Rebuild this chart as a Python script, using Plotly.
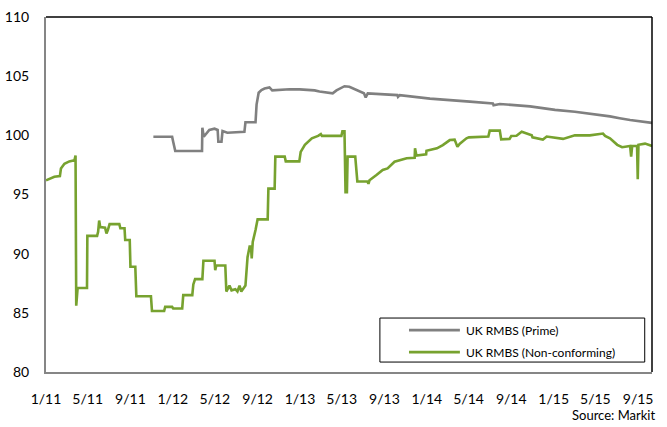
import plotly.graph_objects as go

# ---- data ----
prime_dates = [
    "2011-11-06", "2011-12-30", "2012-01-02", "2012-01-08", "2012-03-25", "2012-03-26",
    "2012-03-30", "2012-04-07", "2012-04-15", "2012-04-30", "2012-05-09", "2012-05-11",
    "2012-05-20", "2012-05-23", "2012-06-06", "2012-07-25", "2012-07-28", "2012-08-26",
    "2012-08-29", "2012-09-04", "2012-09-12", "2012-09-21", "2012-10-05", "2012-10-13",
    "2012-12-02", "2012-12-31", "2013-01-14", "2013-02-12", "2013-02-26", "2013-04-05",
    "2013-04-16", "2013-05-09", "2013-05-23", "2013-06-08", "2013-07-04", "2013-07-09",
    "2013-07-15", "2013-10-08", "2013-10-10", "2013-10-15", "2014-01-10", "2014-05-05",
    "2014-07-10", "2014-07-12", "2014-07-30", "2014-10-25", "2015-01-05", "2015-03-03",
    "2015-04-15", "2015-05-15", "2015-06-12", "2015-07-10", "2015-08-09", "2015-10-11",
]
prime_values = [
    99.88, 99.88, 99.46, 98.67, 98.67, 100.64,
    99.88, 100.2, 100.45, 100.56, 100.45, 99.46,
    99.46, 100.36, 100.22, 100.3, 101.1, 101.1,
    102.6, 103.6, 103.83, 103.95, 104.05, 103.8,
    103.9, 103.88, 103.85, 103.8, 103.7, 103.55,
    103.8, 104.15, 104.1, 103.9, 103.55, 103.2,
    103.55, 103.4, 103.25, 103.4, 103.1, 102.85,
    102.7, 102.55, 102.65, 102.45, 102.15, 102.0,
    101.85, 101.72, 101.6, 101.45, 101.3, 101.05,
]

nc_dates = [
    "2011-01-01", "2011-01-11", "2011-01-16", "2011-01-25", "2011-02-10", "2011-02-13",
    "2011-02-23", "2011-03-09", "2011-03-24", "2011-03-27", "2011-03-29", "2011-03-31",
    "2011-04-02", "2011-04-29", "2011-04-30", "2011-05-28", "2011-05-31", "2011-06-03",
    "2011-06-06", "2011-06-20", "2011-06-24", "2011-06-28", "2011-07-03", "2011-07-31",
    "2011-08-03", "2011-08-15", "2011-08-17", "2011-08-30", "2011-09-01", "2011-09-15",
    "2011-09-18", "2011-10-30", "2011-11-02", "2011-12-07", "2011-12-10", "2011-12-30",
    "2012-01-02", "2012-01-28", "2012-01-31", "2012-02-26", "2012-02-29", "2012-03-05",
    "2012-03-26", "2012-03-29", "2012-04-30", "2012-05-02", "2012-05-05", "2012-05-31",
    "2012-06-03", "2012-06-12", "2012-06-18", "2012-06-29", "2012-07-05", "2012-07-11",
    "2012-07-16", "2012-07-28", "2012-08-03", "2012-08-09", "2012-08-13", "2012-08-15",
    "2012-08-18", "2012-08-26", "2012-09-01", "2012-09-30", "2012-10-02", "2012-10-20",
    "2012-10-22", "2012-11-18", "2012-11-21", "2012-12-30", "2013-01-03", "2013-01-15",
    "2013-02-04", "2013-02-22", "2013-03-02", "2013-03-05", "2013-04-30", "2013-05-03",
    "2013-05-09", "2013-05-12", "2013-05-16", "2013-05-18", "2013-06-09", "2013-06-15",
    "2013-07-14", "2013-07-17", "2013-07-20", "2013-08-09", "2013-08-27", "2013-09-10",
    "2013-09-30", "2013-11-04", "2013-11-27", "2013-11-28", "2013-12-02", "2013-12-30",
    "2013-12-31", "2014-01-30", "2014-02-16", "2014-03-08", "2014-03-22", "2014-03-30",
    "2014-04-06", "2014-04-25", "2014-05-02", "2014-06-27", "2014-07-01", "2014-07-30",
    "2014-08-03", "2014-08-27", "2014-09-01", "2014-09-16", "2014-10-01", "2014-10-30",
    "2014-11-01", "2014-12-01", "2014-12-12", "2015-01-28", "2015-02-17", "2015-03-03",
    "2015-04-15", "2015-05-23", "2015-05-29", "2015-06-12", "2015-07-03", "2015-07-17",
    "2015-08-09", "2015-08-12", "2015-08-15", "2015-08-29", "2015-08-31", "2015-09-02",
    "2015-09-21", "2015-10-11",
]
nc_values = [
    96.2, 96.3, 96.4, 96.5, 96.55, 97.2,
    97.6, 97.8, 97.9, 98.3, 85.6, 86.2,
    87.1, 87.1, 91.5, 91.5, 91.85, 92.8,
    92.25, 92.2, 91.7, 92.0, 92.5, 92.5,
    92.15, 92.15, 91.15, 91.15, 88.9, 88.9,
    86.4, 86.4, 85.15, 85.15, 85.5, 85.5,
    85.37, 85.37, 86.5, 86.5, 87.4, 87.85,
    87.85, 89.4, 89.4, 88.6, 89.0, 89.0,
    86.8, 87.3, 86.9, 87.0, 86.8, 87.3,
    86.8, 87.3, 89.7, 90.6, 90.6, 89.6,
    91.0, 92.0, 92.9, 92.9, 95.5, 95.5,
    98.2, 98.2, 97.8, 97.8, 98.6, 99.2,
    99.75, 99.95, 100.1, 99.95, 99.95, 100.35,
    100.35, 95.2, 95.2, 98.2, 98.2, 96.1,
    96.1, 95.9, 96.2, 96.64, 97.07, 97.2,
    97.77, 98.06, 98.1, 98.9, 98.3, 98.4,
    98.7, 98.9, 99.18, 99.6, 99.64, 99.04,
    99.3, 99.75, 99.83, 99.9, 100.4, 100.4,
    99.66, 99.7, 99.94, 99.97, 100.3, 100.0,
    99.83, 99.64, 99.9, 99.7, 99.9, 100.0,
    100.0, 100.15, 99.95, 99.75, 99.2, 99.0,
    99.1, 98.2, 99.1, 99.1, 96.3, 99.2,
    99.3, 99.1,
]

tick_dates = ["2011-01-01", "2011-05-01", "2011-09-01", "2012-01-01", "2012-05-01",
              "2012-09-01", "2013-01-01", "2013-05-01", "2013-09-01", "2014-01-01",
              "2014-05-01", "2014-09-01", "2015-01-01", "2015-05-01", "2015-09-01"]
tick_labels = ["1/11", "5/11", "9/11", "1/12", "5/12", "9/12", "1/13", "5/13",
               "9/13", "1/14", "5/14", "9/14", "1/15", "5/15", "9/15"]
y_ticks = [80, 85, 90, 95, 100, 105, 110]

series_names = ["UK RMBS (Prime)", "UK RMBS (Non-conforming)"]
series_colors = ["#808080", "#77A22F"]
source_text = "Source: Markit"

FONT = "Lato, 'Open Sans', sans-serif"

fig = go.Figure()
fig.add_trace(go.Scatter(x=prime_dates, y=prime_values, mode="lines",
                         name=series_names[0], line=dict(color=series_colors[0], width=2.6),
                         showlegend=False))
fig.add_trace(go.Scatter(x=nc_dates, y=nc_values, mode="lines",
                         name=series_names[1], line=dict(color=series_colors[1], width=2.6),
                         showlegend=False))

fig.update_layout(
    width=667, height=427,
    margin=dict(l=46, r=15, t=17, b=55, autoexpand=False),
    paper_bgcolor="white", plot_bgcolor="white",
    font=dict(family=FONT, size=14, color="#000000"),
    xaxis=dict(type="date", range=["2011-01-01", "2015-10-11"], automargin=False,
               tickmode="array", tickvals=tick_dates, ticktext=tick_labels,
               showgrid=False, zeroline=False, showline=True, linecolor="#868686",
               linewidth=2, ticks="", ticklabelstandoff=13,
               tickfont=dict(family=FONT, size=14, color="#000000")),
    yaxis=dict(range=[80, 110], tickmode="array", tickvals=y_ticks, automargin=False,
               showgrid=False, zeroline=False, showline=True, linecolor="#868686",
               linewidth=2, ticks="", ticklabelstandoff=12,
               tickfont=dict(family=FONT, size=14, color="#000000")),
)

# top and right frame lines
fig.add_shape(type="line", xref="paper", yref="paper", x0=0, x1=1, y0=1, y1=1,
              line=dict(color="#000000", width=1.5))
fig.add_shape(type="line", xref="paper", yref="paper", x0=1, x1=1, y0=0, y1=1,
              line=dict(color="#000000", width=1.5))

# custom legend box
fig.add_shape(type="rect", xref="paper", yref="paper", x0=0.551, x1=0.988, y0=0.028, y1=0.152,
              line=dict(color="#000000", width=1), fillcolor="white")
legend_rows = [0.118, 0.056]
for name, color, yy in zip(series_names, series_colors, legend_rows):
    fig.add_shape(type="line", xref="paper", yref="paper", x0=0.599, x1=0.683, y0=yy, y1=yy,
                  line=dict(color=color, width=2.6))
    fig.add_annotation(x=0.69, y=yy, xref="paper", yref="paper", text=name, showarrow=False,
                       xanchor="left", yanchor="middle",
                       font=dict(family=FONT, size=12, color="#000000"))

fig.add_annotation(x=1.008, y=-0.12, xref="paper", yref="paper", text=source_text,
                   showarrow=False, xanchor="right", yanchor="middle",
                   font=dict(family=FONT, size=13, color="#000000"))

fig.write_html("out.html", config={"displayModeBar": False},
               post_script="document.body.style.margin='0';document.body.style.padding='0';")
